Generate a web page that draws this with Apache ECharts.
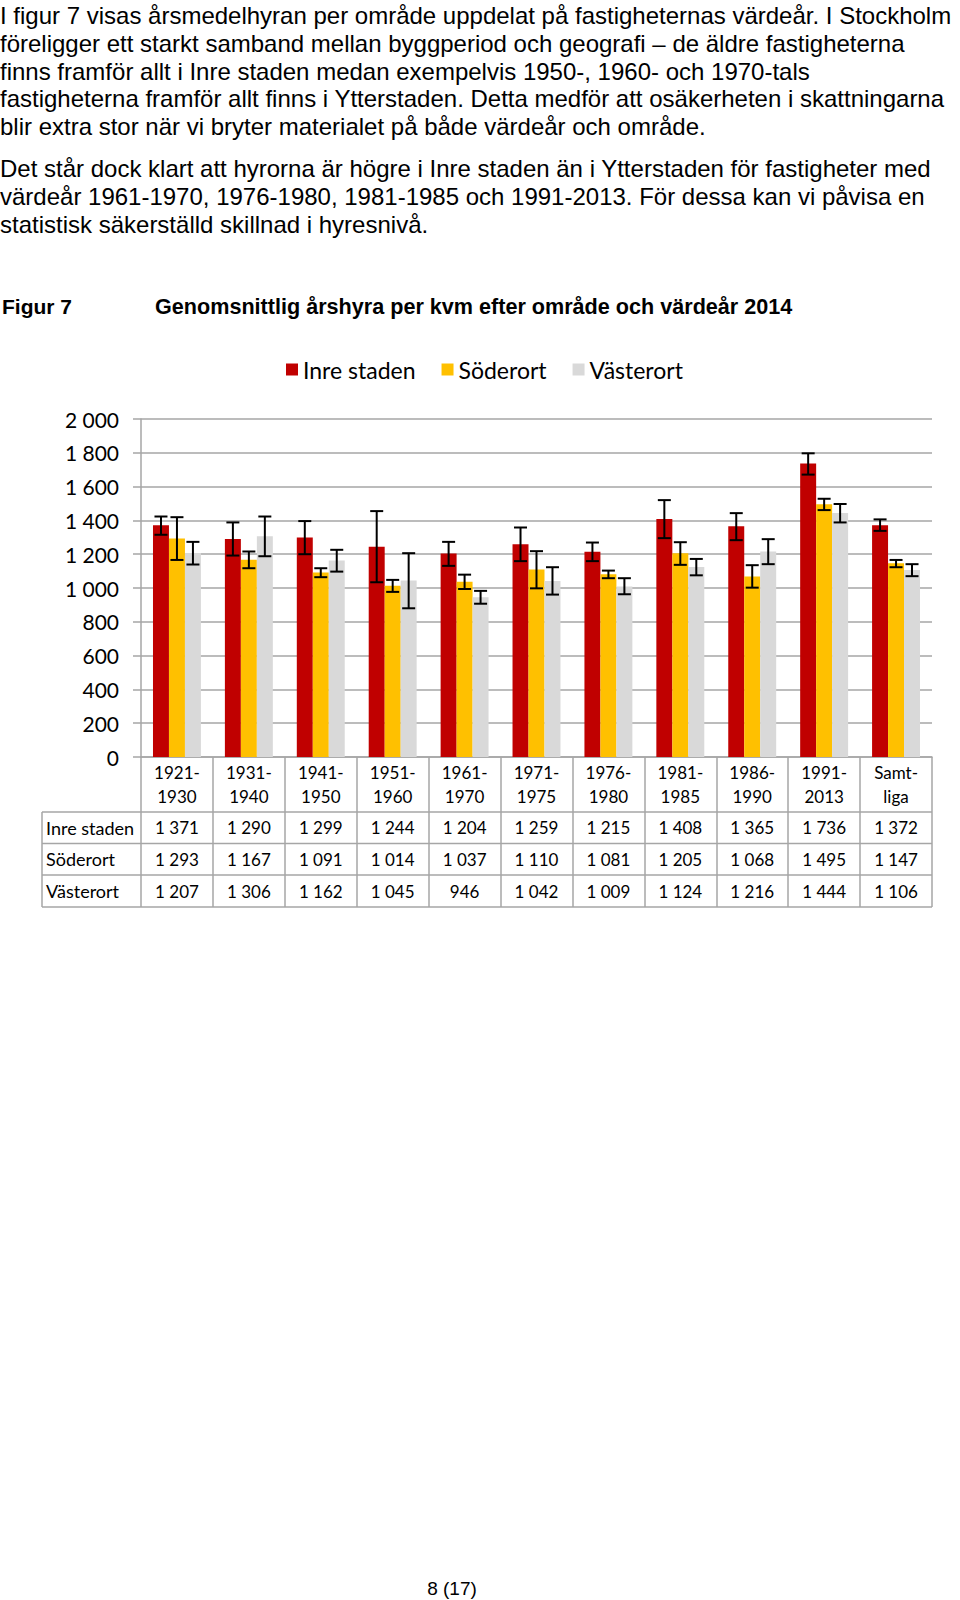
<!DOCTYPE html>
<html>
<head>
<meta charset="utf-8">
<script src="https://cdn.jsdelivr.net/npm/echarts@6/dist/echarts.min.js"></script>
<style>html,body{margin:0;padding:0;background:#fff}#c{width:960px;height:1600px}</style>
</head>
<body>
<div id="c"></div>
<script>
// ---------- data ----------
const categories = ['1921-\n1930','1931-\n1940','1941-\n1950','1951-\n1960','1961-\n1970','1971-\n1975','1976-\n1980','1981-\n1985','1986-\n1990','1991-\n2013','Samt-\nliga'];
const seriesNames = ['Inre staden','Söderort','Västerort'];
const inreStaden = [1371,1290,1299,1244,1204,1259,1215,1408,1365,1736,1372];
const soderort   = [1293,1167,1091,1014,1037,1110,1081,1205,1068,1495,1147];
const vasterort  = [1207,1306,1162,1045,946,1042,1009,1124,1216,1444,1106];
// error bar ends
const inreLow    = [1315,1192,1200,1034,1131,1159,1159,1295,1283,1671,1338];
const inreHigh   = [1423,1388,1396,1455,1273,1358,1269,1520,1443,1797,1406];
const soderLow   = [1166,1117,1064,977,994,998,1058,1137,1002,1461,1123];
const soderHigh  = [1419,1216,1117,1048,1079,1218,1103,1271,1135,1528,1166];
const vasterLow  = [1139,1188,1097,880,907,961,963,1075,1141,1388,1070];
const vasterHigh = [1273,1423,1226,1206,983,1123,1058,1172,1289,1497,1141];
const yMin = 0, yMax = 2000, yStep = 200;

const para1 = [
 'I figur 7 visas årsmedelhyran per område uppdelat på fastigheternas värdeår. I Stockholm',
 'föreligger ett starkt samband mellan byggperiod och geografi – de äldre fastigheterna',
 'finns framför allt i Inre staden medan exempelvis 1950-, 1960- och 1970-tals',
 'fastigheterna framför allt finns i Ytterstaden. Detta medför att osäkerheten i skattningarna',
 'blir extra stor när vi bryter materialet på både värdeår och område.'
];
const para2 = [
 'Det står dock klart att hyrorna är högre i Inre staden än i Ytterstaden för fastigheter med',
 'värdeår 1961-1970, 1976-1980, 1981-1985 och 1991-2013. För dessa kan vi påvisa en',
 'statistisk säkerställd skillnad i hyresnivå.'
];
const figLabel = 'Figur 7';
const figTitle = 'Genomsnittlig årshyra per kvm efter område och värdeår 2014';
const pageLabel = '8 (17)';

// ---------- layout ----------
const colors = ['#C00000','#FFC000','#D9D9D9'];
const G = {left:141, right:932, top:419, bottom:757};
const tableLeft = 42;
const rowLines = [812, 843.5, 875, 907];
const rowCenters = [827.5, 859.3, 891];
const gridColor = '#A6A6A6';
const CAT_GAP = 1/3;
const sans2 = 'Lato, "Open Sans", sans-serif';
const arial = '"Liberation Sans", Arial, sans-serif';

function fmt(n){
  if (n >= 1000) return Math.floor(n/1000) + ' ' + String(n % 1000).padStart(3,'0');
  return String(n);
}

const values = [inreStaden, soderort, vasterort];
const lows = [inreLow, soderLow, vasterLow];
const highs = [inreHigh, soderHigh, vasterHigh];

const chart = echarts.init(document.getElementById('c'), null, {renderer:'svg'});

const graphics = [];
const lineYs1 = [15.5, 43.2, 71, 98.8, 126.5];
const lineYs2 = [168.3, 196.5, 224.4];
para1.forEach((t,i)=>graphics.push({type:'text', x:0, y:lineYs1[i], style:{text:t, fill:'#000', font:'24px ' + arial, verticalAlign:'middle'}}));
para2.forEach((t,i)=>graphics.push({type:'text', x:0, y:lineYs2[i], style:{text:t, fill:'#000', font:'24px ' + arial, verticalAlign:'middle'}}));
graphics.push({type:'text', x:2, y:306, style:{text:figLabel, fill:'#000', font:'bold 21px ' + arial, verticalAlign:'middle'}});
graphics.push({type:'text', x:155, y:306, style:{text:figTitle, fill:'#000', font:'bold 21.6px ' + arial, verticalAlign:'middle'}});
graphics.push({type:'text', x:452, y:1588, style:{text:pageLabel, fill:'#000', font:'19px ' + arial, verticalAlign:'middle', align:'center'}});
// table borders
rowLines.forEach(y=>graphics.push({type:'line', shape:{x1:tableLeft, y1:y, x2:G.right, y2:y}, style:{stroke:gridColor, lineWidth:1.5}}));
graphics.push({type:'line', shape:{x1:tableLeft, y1:rowLines[0], x2:tableLeft, y2:rowLines[3]}, style:{stroke:gridColor, lineWidth:1.5}});
seriesNames.forEach((n,i)=>graphics.push({type:'text', x:tableLeft+4, y:rowCenters[i], style:{text:n, fill:'#000', font:'18px ' + sans2, verticalAlign:'middle'}}));

const series = [];
seriesNames.forEach((name,k)=>{
  series.push({type:'bar', name, data: values[k], barCategoryGap:(CAT_GAP*100)+'%', barGap:'0%',
    itemStyle:{color:colors[k]}, silent:true});
});
seriesNames.forEach((name,k)=>{
  series.push({type:'custom', name:'err'+k, silent:true, z:5,
    data: lows[k].map((l,i)=>[i,l,highs[k][i]]),
    encode:{x:0, y:[1,2]},
    renderItem(params, api){
      const i = api.value(0);
      const band = api.size([1,0])[0];
      const bw = band*(1-CAT_GAP)/3;
      const cx = api.coord([i,0])[0] + (k-1)*bw;
      const y1 = api.coord([i, api.value(1)])[1];
      const y2 = api.coord([i, api.value(2)])[1];
      const h = 6.5, st = {stroke:'#000', lineWidth:2};
      return {type:'group', children:[
        {type:'line', shape:{x1:cx,y1:y1,x2:cx,y2:y2}, style:st},
        {type:'line', shape:{x1:cx-h,y1:y1,x2:cx+h,y2:y1}, style:st},
        {type:'line', shape:{x1:cx-h,y1:y2,x2:cx+h,y2:y2}, style:st}
      ]};
    }});
});

const rowAxes = values.map((arr,k)=>({
  type:'category', data:categories, position:'bottom', gridIndex:0,
  offset: rowCenters[k] - G.bottom - 10,
  axisLine:{show:false}, axisTick:{show:false}, splitLine:{show:false},
  axisLabel:{interval:0, margin:0, lineHeight:20, color:'#000', fontFamily:sans2, fontSize:17,
    formatter:(v,idx)=>fmt(arr[idx])}
}));

chart.setOption({
  animation:false,
  backgroundColor:'#fff',
  textStyle:{fontFamily:sans2},
  legend:{data:seriesNames, left:286, top:358, icon:'rect', itemWidth:12, itemHeight:12, itemGap:26, padding:0,
    textStyle:{color:'#000', fontSize:23, fontFamily:sans2}},
  grid:{left:G.left, right:960-G.right, top:G.top, height:G.bottom-G.top, outerBoundsMode:'none', containLabel:false},
  xAxis:[{
    type:'category', data:categories, position:'bottom',
    axisLine:{show:true, lineStyle:{color:gridColor, width:1.5}},
    axisTick:{show:true, length:rowLines[3]-G.bottom, interval:0, lineStyle:{color:gridColor, width:1.5}},
    axisLabel:{interval:0, margin:3, lineHeight:24, color:'#000', fontFamily:sans2, fontSize:17}
  }].concat(rowAxes),
  yAxis:{type:'value', min:yMin, max:yMax, interval:yStep,
    axisLine:{show:true, lineStyle:{color:gridColor, width:1.5}},
    axisTick:{show:true, length:8, lineStyle:{color:gridColor, width:1.5}},
    splitLine:{lineStyle:{color:gridColor, width:1.5}},
    axisLabel:{margin:22, color:'#000', fontFamily:sans2, fontSize:21, formatter:v=>fmt(v)}},
  series,
  graphic:graphics
});
</script>
</body>
</html>
